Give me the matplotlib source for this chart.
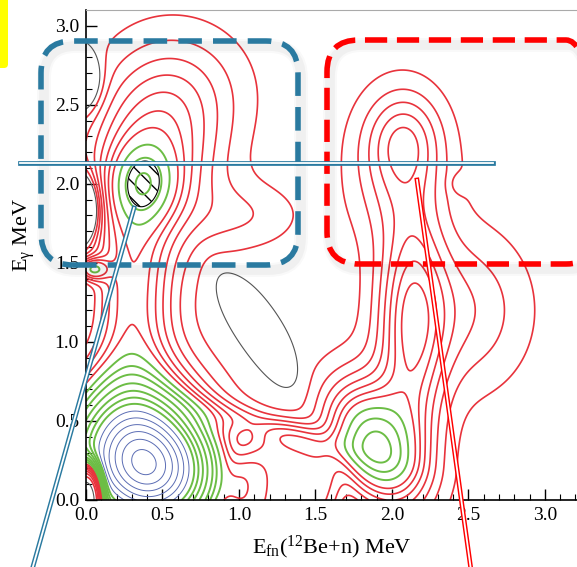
import numpy as np
import matplotlib
matplotlib.use("Agg")
import matplotlib.pyplot as plt
from matplotlib.patches import FancyBboxPatch
from matplotlib.lines import Line2D

plt.rcParams["font.family"] = ["Liberation Serif", "DejaVu Serif"]
plt.rcParams["mathtext.fontset"] = "custom"
plt.rcParams["mathtext.rm"] = "Liberation Serif"
plt.rcParams["mathtext.it"] = "Liberation Serif:italic"
plt.rcParams["hatch.color"] = "black"
plt.rcParams["hatch.linewidth"] = 1.0
plt.rcParams["lines.scale_dashes"] = False

# Components of the E_fn / E_gamma correlation surface
#               A1     A2    B1    B2    Btop  Btail Larm  Lbump Ldip   Ltop   C1    C2    Barm  Bay   Rarm  Rtail D1    D2    Rdip  Valley
comp_amp  = [11.0,  5.0,  1.8,  2.2,  0.8,  0.6,  2.4,  2.5, -4.0,  -2.0,  3.6,  1.0,  1.1,  2.0,  2.4,  1.1,  1.0,  1.2, -0.4, -1.0]
comp_x    = [0.44,  0.22, 0.37, 0.45, 0.65, 1.05, 0.30, 0.04, -0.03, -0.03, 1.88, 1.95, 1.22, 1.30, 2.13, 2.45, 2.08, 2.05, 2.44, 1.12]
comp_y    = [0.18,  0.42, 2.00, 2.15, 2.60, 1.80, 1.30, 1.46, 1.84,  2.65,  0.33, 0.45, 0.45, 0.00, 1.10, 1.20, 2.30, 2.10, 2.00, 1.08]
comp_sx   = [0.28,  0.28, 0.15, 0.28, 0.30, 0.25, 0.18, 0.07, 0.07,  0.08,  0.18, 0.22, 0.42, 0.32, 0.15, 0.30, 0.16, 0.22, 0.045, 0.25]
comp_sy   = [0.26,  0.32, 0.17, 0.38, 0.28, 0.15, 0.50, 0.05, 0.13,  0.12,  0.27, 0.30, 0.07, 0.40, 0.48, 0.35, 0.20, 0.32, 0.045, 0.075]
comp_tilt = [-20,  -35,   0,    0,    0,    0,    0,    0,    0,     0,    30,   20,  -15,    0,    0,    0,    0,    0,    0,   -55]
comp_pow  = [2,     2,    2,    2,    2,    2,    2,    2,    2,     2,     2,    2,    2,    6,    2,    2,    2,    2,    2,    2]
baseline = 0.3

# Contour levels, grouped by drawing colour
black_levels = [0.2]
red_levels = [0.6, 1.0, 1.4, 1.8, 2.2, 2.6, 3.0]
green_levels = [3.6, 4.2, 4.8, 5.6, 6.4, 7.2, 8.0]
blue_levels = [9.0, 10.0, 11.0, 12.0, 13.0, 14.0, 15.0]
hatch_level = 4.35

x_ticks = [0.0, 0.5, 1.0, 1.5, 2.0, 2.5, 3.0]
y_ticks = [0.0, 0.5, 1.0, 1.5, 2.0, 2.5, 3.0]

xg = np.linspace(0, 3.21, 500)
yg = np.linspace(0, 3.1, 500)
X, Y = np.meshgrid(xg, yg)

Z = np.full_like(X, baseline)
for a, x0, y0, sx, sy, t, p in zip(comp_amp, comp_x, comp_y, comp_sx, comp_sy, comp_tilt, comp_pow):
    th = np.deg2rad(t)
    u = (X - x0) * np.cos(th) + (Y - y0) * np.sin(th)
    v = -(X - x0) * np.sin(th) + (Y - y0) * np.cos(th)
    rr = np.sqrt((u / sx) ** 2 + (v / sy) ** 2)
    Z += a * np.exp(-0.5 * rr ** p)
# phase-space suppression at the origin
r = np.sqrt((X / 0.12) ** 2 + (Y / 0.26) ** 2)
Z *= 1 - np.exp(-r ** 4)

W, H = 577, 567
fig = plt.figure(figsize=(W / 100, H / 100), dpi=100)
ax = fig.add_axes([86 / W, 67 / H, 491 / W, 490 / H])

ax.contour(X, Y, Z, levels=black_levels, colors="#555555", linewidths=0.8)
ax.contour(X, Y, Z, levels=red_levels, colors="#e8333c", linewidths=1.2)
ax.contour(X, Y, Z, levels=green_levels, colors="#6cbd45", linewidths=1.4)
ax.contour(X, Y, Z, levels=blue_levels, colors="#5b6db4", linewidths=0.7)
Zh = np.where(Y > 1.5, Z, np.nan)
ax.contourf(X, Y, Zh, levels=[hatch_level, 100], colors="none", hatches=[r"\\"])
ax.contour(X, Y, Zh, levels=[hatch_level], colors="black", linewidths=0.8)

ax.set_xlim(0, 3.21)
ax.set_ylim(0, 3.1)
ax.set_xticks(x_ticks)
ax.set_xticklabels([f"{v:.1f}" for v in x_ticks])
ax.set_yticks(y_ticks)
ax.set_yticklabels([f"{v:.1f}" for v in y_ticks])
ax.set_xticks(np.arange(0, 3.21, 0.1), minor=True)
ax.set_yticks(np.arange(0, 3.1, 0.1), minor=True)
ax.tick_params(which="both", direction="in", labelsize=14, colors="black")
ax.tick_params(which="major", length=8, width=1.0, pad=5)
ax.tick_params(which="minor", length=4, width=0.8)
ax.spines["right"].set_visible(False)
ax.spines["top"].set_color("#aaaaaa")
ax.spines["left"].set_linewidth(1.2)
ax.spines["bottom"].set_linewidth(1.2)

ax.set_xlabel(r"E$_{\rm fn}$($^{12}$Be+n) MeV", fontsize=16, labelpad=7)
ax.set_ylabel(r"E$_{\rm γ}$ MeV", fontsize=16)
ax.yaxis.set_label_coords(-0.10, 0.54)

# annotation overlays in pixel space
def py(v):
    return H - v

def dashed_box(x0, y0, x1, y1, color, dash, lw):
    for al, extra in [(0.025, 6), (0.035, 3)]:
        sh = FancyBboxPatch((x0 + 3, py(y1) - 5), x1 - x0, y1 - y0,
                            boxstyle="round,pad=0,rounding_size=32",
                            transform=None, fill=False, edgecolor="black",
                            alpha=al, linewidth=lw + extra)
        fig.add_artist(sh)
    b = FancyBboxPatch((x0, py(y1)), x1 - x0, y1 - y0,
                       boxstyle="round,pad=0,rounding_size=32",
                       transform=None, fill=False, edgecolor=color,
                       linewidth=lw, linestyle=(0, dash))
    fig.add_artist(b)

dashed_box(41, 41, 298, 265, "#2a7aa0", (17, 8), 4.0)
dashed_box(327, 40, 598, 264, "#ff0000", (16, 7), 4.0)

def double_line(xs, ys, color):
    fig.add_artist(Line2D(xs, [py(v) for v in ys], transform=None, color=color, linewidth=3.4))
    fig.add_artist(Line2D(xs, [py(v) for v in ys], transform=None, color="white", linewidth=1.3))

double_line([20, 493], [163, 163], "#2a7aa0")
double_line([134, 32], [208, 570], "#2a7aa0")
double_line([417, 471], [180, 570], "#ff0000")

fig.add_artist(FancyBboxPatch((-10, py(68)), 18, 80, boxstyle="round,pad=0,rounding_size=4",
                              transform=None, facecolor="#ffff00", edgecolor="none"))

fig.savefig("out.png", dpi=100)
